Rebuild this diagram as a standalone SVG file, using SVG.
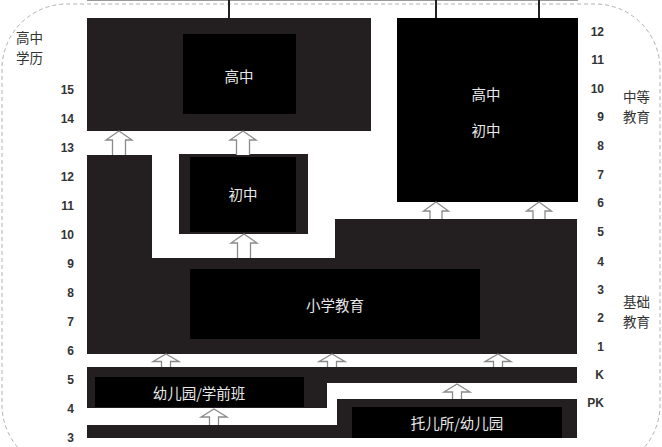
<svg xmlns="http://www.w3.org/2000/svg" width="662" height="447" viewBox="0 0 662 447">
<style>
.panel{fill:#231f20}
.inner{fill:#000}
.lbl{font-family:"Noto Sans CJK SC","Noto Sans",sans-serif;font-size:14.5px;fill:#e8e8e8;text-anchor:middle;dominant-baseline:central}
.cat{font-family:"Noto Sans CJK SC","Noto Sans",sans-serif;font-size:13.5px;fill:#333;dominant-baseline:central}
.num{font-family:"Liberation Sans",Arial,sans-serif;font-weight:bold;font-size:12px;fill:#333;dominant-baseline:central}
.nl{text-anchor:end}
.arr{fill:#fff;stroke:#8a8a8a;stroke-width:1.3}
.vline{stroke:#222;stroke-width:2}
</style>
<rect width="662" height="447" fill="#fff"/>
<path d="M67,470 A65,65 0 0 1 2,405 V69 A65,65 0 0 1 67,4 H595 A65,65 0 0 1 660,69 V405 A65,65 0 0 1 595,470 Z" fill="none" stroke="#b0b0b0" stroke-width="1" stroke-dasharray="4 3"/>
<line x1="87" y1="0.5" x2="578" y2="0.5" stroke="#999" stroke-width="1"/>

<g id="senior-high">
<rect class="panel" x="87" y="18" width="284" height="113"/>
<rect class="inner" x="183" y="34" width="113" height="80"/>
<text class="lbl" x="239" y="75">高中</text>
</g>
<g id="secondary">
<rect class="inner" x="397" y="18" width="181" height="184"/>
<text class="lbl" x="486" y="93">高中</text>
<text class="lbl" x="486" y="129">初中</text>
</g>
<g id="junior-high">
<rect class="panel" x="179" y="154" width="129" height="80"/>
<rect class="inner" x="190" y="157" width="106" height="75"/>
<text class="lbl" x="243" y="193">初中</text>
</g>
<g id="primary">
<path class="panel" d="M87,155 H152 V258 H335 V219 H577 V354 H87 Z"/>
<rect class="inner" x="190" y="269" width="290" height="70"/>
<text class="lbl" x="335" y="304">小学教育</text>
</g>
<g id="kindergarten">
<path class="panel" d="M87,367 H577 V383 H327 V408 H87 Z"/>
<rect class="inner" x="95" y="377" width="209" height="30"/>
<text class="lbl" x="199" y="392">幼儿园/学前班</text>
</g>
<g id="prek">
<path class="panel" d="M87,425 H337 V399 H577 V438 H87 Z"/>
<rect class="inner" x="352" y="407" width="210" height="31"/>
<text class="lbl" x="457" y="422">托儿所/幼儿园</text>
</g>

<g id="connectors">
<line class="vline" x1="229" y1="0" x2="229" y2="18"/>
<line class="vline" x1="436" y1="0" x2="436" y2="18"/>
<line class="vline" x1="539" y1="0" x2="539" y2="18"/>
<path class="arr" transform="translate(119,131)" d="M-6.5,24 V9 H-13 L0,0 L13,9 H6.5 V24"/>
<path class="arr" transform="translate(243,131)" d="M-6.5,24 V9 H-13 L0,0 L13,9 H6.5 V24"/>
<path class="arr" transform="translate(244,234)" d="M-6.5,24 V9 H-13 L0,0 L13,9 H6.5 V24"/>
<path class="arr" transform="translate(436,202)" d="M-6,17 V9 H-12.5 L0,0 L12.5,9 H6 V17"/>
<path class="arr" transform="translate(539,202)" d="M-6,17 V9 H-12.5 L0,0 L12.5,9 H6 V17"/>
<path class="arr" transform="translate(166,354)" d="M-4.5,13 V7.5 H-13 L0,0 L13,7.5 H4.5 V13"/>
<path class="arr" transform="translate(332,354)" d="M-4.5,13 V7.5 H-13 L0,0 L13,7.5 H4.5 V13"/>
<path class="arr" transform="translate(498,354)" d="M-4.5,13 V7.5 H-13 L0,0 L13,7.5 H4.5 V13"/>
<path class="arr" transform="translate(214,409)" d="M-4.5,16 V8 H-13 L0,0 L13,8 H4.5 V16"/>
<path class="arr" transform="translate(457,384)" d="M-4.5,15 V8 H-13 L0,0 L13,8 H4.5 V15"/>
</g>

<g id="labels">
<text class="cat" x="16" y="37">高中</text>
<text class="cat" x="16" y="57">学历</text>
<text class="cat" x="623" y="96">中等</text>
<text class="cat" x="623" y="116">教育</text>
<text class="cat" x="623" y="301">基础</text>
<text class="cat" x="623" y="321">教育</text>
<text class="num nl" x="74" y="90">15</text>
<text class="num nl" x="74" y="119">14</text>
<text class="num nl" x="74" y="148">13</text>
<text class="num nl" x="74" y="177">12</text>
<text class="num nl" x="74" y="206">11</text>
<text class="num nl" x="74" y="235">10</text>
<text class="num nl" x="74" y="264">9</text>
<text class="num nl" x="74" y="293">8</text>
<text class="num nl" x="74" y="322">7</text>
<text class="num nl" x="74" y="351">6</text>
<text class="num nl" x="74" y="380">5</text>
<text class="num nl" x="74" y="409">4</text>
<text class="num nl" x="74" y="438">3</text>
<text class="num nl" x="604" y="32">12</text>
<text class="num nl" x="604" y="60">11</text>
<text class="num nl" x="604" y="89">10</text>
<text class="num nl" x="604" y="117">9</text>
<text class="num nl" x="604" y="146">8</text>
<text class="num nl" x="604" y="175">7</text>
<text class="num nl" x="604" y="203">6</text>
<text class="num nl" x="604" y="232">5</text>
<text class="num nl" x="604" y="262">4</text>
<text class="num nl" x="604" y="290">3</text>
<text class="num nl" x="604" y="318">2</text>
<text class="num nl" x="604" y="347">1</text>
<text class="num nl" x="604" y="375">K</text>
<text class="num nl" x="604" y="403">PK</text>
</g>
</svg>
